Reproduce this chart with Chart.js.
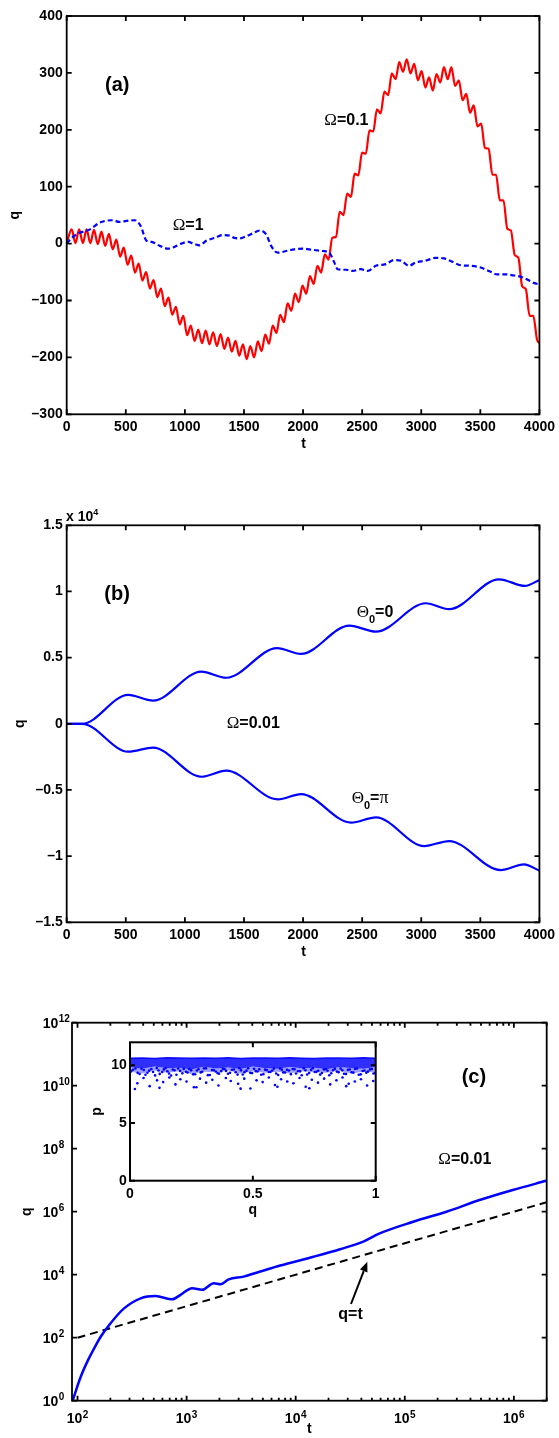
<!DOCTYPE html>
<html><head><meta charset="utf-8">
<script src="https://cdn.jsdelivr.net/npm/chart.js@4.4.0/dist/chart.umd.min.js"></script>
<style>
html,body{margin:0;padding:0;background:#fff;}
#wrap{position:relative;width:559px;height:1438px;overflow:hidden;background:#fff;}
canvas{position:absolute;}
</style></head><body>
<div id="wrap">
<canvas id="ca" width="559" height="450" style="left:0;top:0"></canvas>
<canvas id="cb" width="559" height="510" style="left:0;top:450px"></canvas>
<canvas id="cc" width="559" height="478" style="left:0;top:960px"></canvas>
<canvas id="ci" width="320" height="195" style="left:80px;top:1030px"></canvas>
</div>
<script>
// ---------------- Panel (a) ----------------
const aXTicks = [0,500,1000,1500,2000,2500,3000,3500,4000];
const aYTicks = [-300,-200,-100,0,100,200,300,400];
const redT = [0,42,74,105,137,168,200,231,263,294,326,357,389,420,452,483,515,546,578,609,641,672,704,735,767,798,830,861,893,924,956,987,1019,1050,1082,1113,1145,1176,1208,1239,1271,1302,1334,1365,1397,1428,1460,1491,1523,1554,1586,1617,1649,1680,1712,1743,1775,1806,1838,1869,1901,1932,1964,1995,2027,2058,2090,2121,2153,2184,2216,2247,2279,2310,2342,2373,2405,2436,2468,2499,2531,2562,2594,2625,2657,2688,2720,2751,2783,2814,2846,2877,2909,2940,2972,3003,3035,3066,3098,3129,3161,3192,3224,3255,3287,3318,3350,3381,3413,3444,3476,3507,3539,3570,3602,3633,3665,3696,3728,3759,3791,3822,3854,3885,3917,3948,3980,4000];
const redQ = [1,25,1,25,1,25,1,24,-1,21,-4,17,-10,7,-23,-7,-37,-21,-51,-35,-65,-50,-79,-64,-94,-79,-110,-95,-125,-111,-142,-127,-161,-144,-171,-151,-175,-153,-177,-156,-180,-159,-185,-165,-190,-171,-197,-177,-203,-180,-200,-172,-189,-160,-176,-144,-157,-125,-138,-105,-118,-88,-103,-74,-88,-57,-71,-39,-51,-19,-28,10,12,56,50,88,82,123,120,160,158,199,197,236,229,267,261,299,289,319,302,324,299,316,287,303,274,292,269,298,283,310,289,310,277,287,252,263,230,243,206,211,168,167,121,121,76,76,26,23,-20,-25,-75,-80,-127,-127,-169,-175];
const blueT = [0,42,100,197,281,380,450,507,577,633,647,675,717,788,858,900,970,1027,1083,1125,1181,1252,1322,1378,1420,1463,1519,1575,1632,1688,1730,1786,1857,1927,1997,2081,2166,2222,2264,2292,2363,2419,2489,2546,2616,2700,2770,2827,2897,2953,3038,3122,3192,3263,3333,3417,3502,3572,3642,3713,3783,3839,3896,3952,4000];
const blueQ = [0,10,18,25,37,41,38,40,41,28,19,5,3,-4,-9,-7,0,3,-1,-3,5,10,15,14,10,9,13,18,23,16,-4,-16,-13,-10,-9,-11,-13,-16,-33,-45,-46,-48,-45,-48,-39,-36,-29,-30,-39,-33,-30,-25,-26,-32,-38,-39,-42,-48,-54,-54,-56,-58,-63,-69,-72];

// ---------------- Panel (b) ----------------
const bXTicks = [0,500,1000,1500,2000,2500,3000,3500,4000];
const bYTicks = [-15000,-10000,-5000,0,5000,10000,15000];
const bT0  = [0,130,520,731,1139,1350,1780,1983,2392,2617,3039,3236,3658,3878,4000];
const bQ0  = [0,0,2180,1750,3940,3480,5720,5280,7420,6960,9110,8660,10920,10420,10870];
const bTpi = [0,130,520,731,1139,1350,1786,1983,2406,2617,3025,3236,3672,3869,4000];
const bQpi = [0,0,-2110,-1800,-4000,-3540,-5710,-5310,-7470,-7070,-9240,-8860,-11050,-10620,-11100];

// ---------------- Panel (c) ----------------
const cXExp = [2,3,4,5,6];
const cYExp = [0,2,4,6,8,10,12];
const cT = [90.6,107,123,142,163,201,267,379,520,738,879,1125,1390,1774,2042,2432,3334,4742,7211,14555,25527,41687,58884,119399,240990,485289,977237,1977000];
const cQ = [1.05,5.75,17.4,45.7,107,288,851,1778,2089,1660,2291,3715,3311,5370,5012,7079,8710,12589,19500,37154,64565,112202,204174,478630,1000000,2344229,4897788,9549926];
const refT = [100,2000000];
const refQ = [100,2000000];

// ---------------- Inset ----------------
const iXTicks = [0,0.5,1];
const iYTicks = [0,5,10];
const bandQ    = [0,0.05,0.1,0.15,0.2,0.25,0.3,0.35,0.4,0.45,0.5,0.55,0.6,0.65,0.7,0.75,0.8,0.85,0.9,0.95,1];
const bandTop  = [10.62,10.64,10.6,10.65,10.63,10.61,10.64,10.62,10.65,10.6,10.63,10.64,10.61,10.65,10.62,10.6,10.64,10.63,10.61,10.65,10.62];
const bandMid  = [9.85,9.7,9.9,9.75,9.8,9.65,9.88,9.72,9.82,9.68,9.9,9.76,9.7,9.86,9.74,9.8,9.66,9.84,9.78,9.7,9.86];
const bandLow  = [9.45,9.3,9.55,9.35,9.5,9.25,9.45,9.4,9.55,9.3,9.5,9.35,9.45,9.3,9.5,9.4,9.35,9.55,9.3,9.45,9.4];
const dotQ = [0.012,0.031,0.047,0.063,0.078,0.094,0.109,0.121,0.138,0.152,0.167,0.181,0.196,0.213,0.228,0.241,0.257,0.272,0.288,0.301,0.317,0.334,0.349,0.362,0.378,0.391,0.407,0.423,0.438,0.452,0.466,0.481,0.497,0.512,0.526,0.543,0.557,0.572,0.586,0.603,0.618,0.631,0.647,0.662,0.676,0.692,0.707,0.721,0.737,0.752,0.766,0.781,0.797,0.811,0.826,0.842,0.857,0.871,0.887,0.902,0.916,0.931,0.947,0.962,0.977,0.991,
 0.005,0.022,0.039,0.056,0.071,0.087,0.102,0.116,0.131,0.145,0.159,0.174,0.189,0.204,0.219,0.234,0.249,0.265,0.279,0.294,0.309,0.325,0.341,0.356,0.371,0.385,0.399,0.415,0.43,0.445,0.459,0.474,0.489,0.505,0.519,0.534,0.55,0.565,0.579,0.595,0.61,0.624,0.639,0.655,0.669,0.684,0.699,0.714,0.729,0.744,0.759,0.774,0.789,0.804,0.819,0.834,0.849,0.864,0.879,0.894,0.909,0.924,0.939,0.954,0.969,0.984,0.998,
 0.03,0.055,0.08,0.11,0.135,0.16,0.185,0.205,0.23,0.26,0.285,0.31,0.335,0.36,0.39,0.41,0.44,0.465,0.49,0.515,0.54,0.565,0.59,0.615,0.64,0.665,0.69,0.715,0.74,0.765,0.79,0.815,0.84,0.865,0.89,0.915,0.94,0.965,0.99,0.02,0.12,0.27,0.45,0.6,0.73,0.88];
const dotP = [9.62,9.35,9.71,9.18,9.54,9.43,9.77,9.26,9.65,9.49,9.12,9.58,9.73,9.31,9.45,9.68,9.22,9.56,9.39,9.74,9.15,9.6,9.47,9.28,9.7,9.52,9.36,9.64,9.2,9.57,9.41,9.75,9.33,9.5,9.66,9.24,9.59,9.44,9.72,9.17,9.63,9.38,9.55,9.69,9.29,9.48,9.76,9.21,9.61,9.42,9.53,9.34,9.67,9.14,9.58,9.46,9.73,9.27,9.62,9.4,9.7,9.19,9.51,9.37,9.65,9.3,
 9.48,9.73,9.25,9.6,9.36,9.69,9.13,9.55,9.42,9.77,9.3,9.64,9.19,9.52,9.7,9.38,9.57,9.23,9.66,9.45,9.74,9.16,9.59,9.33,9.5,9.68,9.27,9.62,9.4,9.75,9.21,9.54,9.35,9.71,9.47,9.18,9.63,9.43,9.56,9.29,9.72,9.39,9.61,9.24,9.67,9.49,9.14,9.58,9.34,9.76,9.44,9.2,9.65,9.53,9.31,9.7,9.41,9.57,9.26,9.64,9.37,9.73,9.22,9.55,9.46,9.68,9.32,
 8.45,8.9,8.2,8.7,8.55,8.95,8.35,8.8,8.6,8.1,8.85,8.5,8.75,8.25,8.9,8.65,8.4,8.85,8.0,8.7,8.55,8.95,8.3,8.8,8.6,8.45,8.9,8.15,8.75,8.5,8.85,8.35,8.7,8.95,8.4,8.6,8.8,8.25,8.65,7.95,8.05,8.1,7.98,8.15,8.02,8.2];

// ---------------- helpers ----------------
const FONT = "'Liberation Sans', Arial, Helvetica, sans-serif";
const SERIF = "'Liberation Serif', 'Times New Roman', serif";
const xy = (xs, ys) => xs.slice(0, Math.min(xs.length, ys.length)).map((x, i) => ({x: x, y: ys[i]}));
const dash = v => (v < 0 ? '\u2013' + String(Math.abs(v)) : String(v));
const tickFont = {family: FONT, size: 14, weight: 'bold'};

function drawRich(ctx, it) {
  ctx.save();
  ctx.translate(it.x, it.y);
  if (it.rot) ctx.rotate(it.rot);
  ctx.textBaseline = 'alphabetic';
  ctx.textAlign = 'left';
  ctx.fillStyle = '#000';
  let w = 0;
  const ws = it.parts.map(p => {
    ctx.font = (p[2] || 'bold') + ' ' + p[1] + 'px ' + (p[4] || FONT);
    const m = ctx.measureText(p[0]).width; w += m; return m;
  });
  let x = it.align === 'center' ? -w / 2 : (it.align === 'right' ? -w : 0);
  it.parts.forEach((p, i) => {
    ctx.font = (p[2] || 'bold') + ' ' + p[1] + 'px ' + (p[4] || FONT);
    ctx.fillText(p[0], x, p[3] || 0);
    x += ws[i];
  });
  ctx.restore();
}

function makeFrame(cfg) {
  return {
    id: 'frame',
    beforeDatasetsDraw(chart) {
      if (!cfg.whiteBg) return;
      const a = chart.chartArea, ctx = chart.ctx;
      ctx.save(); ctx.fillStyle = '#fff';
      ctx.fillRect(a.left, a.top, a.right - a.left, a.bottom - a.top);
      ctx.restore();
    },
    afterDatasetsDraw(chart) {
      const ctx = chart.ctx, a = chart.chartArea;
      const xs = chart.scales.x, ys = chart.scales.y;
      ctx.save();
      ctx.strokeStyle = '#000';
      ctx.lineWidth = cfg.lw || 1.8;
      ctx.beginPath();
      xs.ticks.forEach(t => {
        const p = xs.getPixelForValue(t.value);
        if (p < a.left - 0.5 || p > a.right + 0.5) return;
        const L = t.minor ? 3 : 5;
        ctx.moveTo(p, a.bottom); ctx.lineTo(p, a.bottom - L);
        ctx.moveTo(p, a.top); ctx.lineTo(p, a.top + L);
      });
      ys.ticks.forEach(t => {
        const p = ys.getPixelForValue(t.value);
        if (p < a.top - 0.5 || p > a.bottom + 0.5) return;
        const L = t.minor ? 3 : 5;
        ctx.moveTo(a.left, p); ctx.lineTo(a.left + L, p);
        ctx.moveTo(a.right, p); ctx.lineTo(a.right - L, p);
      });
      ctx.stroke();
      ctx.strokeRect(a.left, a.top, a.right - a.left, a.bottom - a.top);
      ctx.restore();
      if (cfg.extra) cfg.extra(chart);
      (cfg.texts || []).forEach(t => drawRich(ctx, t));
    }
  };
}

function linScale(min, max, ticks, fit, isX, fmt, pad) {
  return {
    type: 'linear', min: min, max: max,
    afterBuildTicks: s => { s.ticks = ticks.map(v => ({value: v})); },
    afterFit: s => { if (isX) s.height = fit; else s.width = fit; },
    grid: {display: false, drawTicks: false},
    border: {display: false},
    ticks: {color: '#000', font: tickFont, padding: pad, autoSkip: false, maxRotation: 0, minRotation: 0,
            callback: v => fmt(v)}
  };
}

const baseOpts = (padding, scales) => ({
  responsive: false, animation: false, devicePixelRatio: 1,
  layout: {padding: padding},
  plugins: {legend: {display: false}, tooltip: {enabled: false}},
  elements: {point: {radius: 0}},
  scales: scales
});

const ROT = -Math.PI / 2;

// ---------------- Chart (a) ----------------
new Chart(document.getElementById('ca'), {
  type: 'line',
  data: {datasets: [
    {data: xy(blueT, blueQ), borderColor: '#0000ff', borderWidth: 2.2, borderDash: [5, 3], fill: false,
     cubicInterpolationMode: 'monotone', pointRadius: 0},
    {data: xy(redT, redQ), borderColor: '#ff0000', borderWidth: 2.2, fill: false,
     cubicInterpolationMode: 'monotone', pointRadius: 0}
  ]},
  options: baseOpts({left: 0, right: 18.3, top: 16, bottom: 0}, {
    x: linScale(0, 4000, aXTicks, 35.7, true, v => String(v), 4),
    y: linScale(-300, 400, aYTicks, 66.7, false, dash, 4)
  }),
  plugins: [makeFrame({texts: [
    {x: 105, y: 90.8, parts: [['(a)', 20, 'bold']]},
    {x: 324.3, y: 125, parts: [['\u03A9', 17, 'normal', 0, SERIF], ['=0.1', 16, 'bold']]},
    {x: 172.7, y: 230, parts: [['\u03A9', 17, 'normal', 0, SERIF], ['=1', 16, 'bold']]},
    {x: 18.9, y: 215.2, rot: ROT, align: 'center', parts: [['q', 14, 'bold']]},
    {x: 303.7, y: 448, align: 'center', parts: [['t', 14, 'bold']]}
  ]})]
});

// ---------------- Chart (b) ----------------
new Chart(document.getElementById('cb'), {
  type: 'line',
  data: {datasets: [
    {data: xy(bT0, bQ0), borderColor: '#0000ff', borderWidth: 2.2, fill: false, cubicInterpolationMode: 'monotone', pointRadius: 0},
    {data: xy(bTpi, bQpi), borderColor: '#0000ff', borderWidth: 2.2, fill: false, cubicInterpolationMode: 'monotone', pointRadius: 0}
  ]},
  options: baseOpts({left: 0, right: 18.3, top: 75.3, bottom: 0}, {
    x: linScale(0, 4000, bXTicks, 37.7, true, v => String(v), 4),
    y: linScale(-15000, 15000, bYTicks, 66.7, false, v => dash(v / 10000), 4)
  }),
  plugins: [makeFrame({texts: [
    {x: 66, y: 70.7, parts: [['x 10', 14, 'bold'], ['4', 9, 'bold', -5.5]]},
    {x: 104.3, y: 150, parts: [['(b)', 20, 'bold']]},
    {x: 226.7, y: 278.3, parts: [['\u03A9', 17, 'normal', 0, SERIF], ['=0.01', 16, 'bold']]},
    {x: 356.7, y: 166.7, parts: [['\u0398', 17, 'normal', 0, SERIF], ['0', 11, 'bold', 6], ['=0', 16, 'bold']]},
    {x: 351.7, y: 353.3, parts: [['\u0398', 17, 'normal', 0, SERIF], ['0', 11, 'bold', 6], ['=', 16, 'bold'], ['\u03C0', 18, 'normal', 0, SERIF]]},
    {x: 24.2, y: 273.8, rot: ROT, align: 'center', parts: [['q', 14, 'bold']]},
    {x: 303.7, y: 506, align: 'center', parts: [['t', 14, 'bold']]}
  ]})]
});

// ---------------- Chart (c) ----------------
const cXTickVals = [];
cXExp.forEach(e => {
  cXTickVals.push({value: Math.pow(10, e), minor: false});
  for (let m = 2; m <= 9; m++) {
    const v = m * Math.pow(10, e);
    if (v <= 2000000) cXTickVals.push({value: v, minor: true});
  }
});
function drawPow(ctx, x, base, exp, align) {
  ctx.save();
  ctx.fillStyle = '#000';
  ctx.textBaseline = 'alphabetic'; ctx.textAlign = 'left';
  ctx.font = 'bold 14px ' + FONT; const w1 = ctx.measureText('10').width;
  ctx.font = 'bold 10px ' + FONT; const w2 = ctx.measureText(String(exp)).width;
  let x0 = align === 'center' ? x - (w1 + 0.5 + w2) / 2 : x;
  ctx.font = 'bold 14px ' + FONT; ctx.fillText('10', x0, base);
  ctx.font = 'bold 10px ' + FONT; ctx.fillText(String(exp), x0 + w1 + 0.5, base - 5.5);
  ctx.restore();
}
new Chart(document.getElementById('cc'), {
  type: 'line',
  data: {datasets: [
    {data: xy(cT, cQ), borderColor: '#0000ff', borderWidth: 2.5, fill: false, cubicInterpolationMode: 'monotone', pointRadius: 0},
    {data: xy(refT, refQ), borderColor: '#000', borderWidth: 2, borderDash: [8, 5], fill: false, tension: 0, pointRadius: 0}
  ]},
  options: baseOpts({left: 0, right: 12.3, top: 62.7, bottom: 0}, {
    x: {type: 'logarithmic', min: 89, max: 2000000,
        afterBuildTicks: s => { s.ticks = cXTickVals.map(t => ({value: t.value, minor: t.minor})); },
        afterFit: s => { s.height = 37.3; },
        grid: {display: false, drawTicks: false}, border: {display: false}, ticks: {display: false}},
    y: {type: 'logarithmic', min: 1, max: 1e12,
        afterBuildTicks: s => { s.ticks = cYExp.map(e => ({value: Math.pow(10, e)})); },
        afterFit: s => { s.width = 72; },
        grid: {display: false, drawTicks: false}, border: {display: false}, ticks: {display: false}}
  }),
  plugins: [makeFrame({
    extra: chart => {
      const ctx = chart.ctx, a = chart.chartArea, xs = chart.scales.x, ys = chart.scales.y;
      cYExp.forEach(e => { const p = ys.getPixelForValue(Math.pow(10, e)); drawPow(ctx, 42.7, p + 5.2, e, 'left'); });
      cXExp.forEach(e => { const p = xs.getPixelForValue(Math.pow(10, e)); drawPow(ctx, p, a.bottom + 22.6, e, 'center'); });
      const x1 = 351, y1 = 344, x2 = 367.3, y2 = 301.7;
      const dx = x2 - x1, dy = y2 - y1, L = Math.hypot(dx, dy), ux = dx / L, uy = dy / L;
      const hl = 10, hw = 4;
      ctx.save();
      ctx.strokeStyle = '#000'; ctx.fillStyle = '#000'; ctx.lineWidth = 2;
      ctx.beginPath(); ctx.moveTo(x1, y1); ctx.lineTo(x2 - ux * hl, y2 - uy * hl); ctx.stroke();
      ctx.beginPath(); ctx.moveTo(x2, y2);
      ctx.lineTo(x2 - ux * hl - uy * hw, y2 - uy * hl + ux * hw);
      ctx.lineTo(x2 - ux * hl + uy * hw, y2 - uy * hl - ux * hw);
      ctx.closePath(); ctx.fill();
      ctx.restore();
    },
    texts: [
      {x: 461.7, y: 122.5, parts: [['(c)', 20, 'bold']]},
      {x: 438.3, y: 204, parts: [['\u03A9', 17, 'normal', 0, SERIF], ['=0.01', 16, 'bold']]},
      {x: 338.3, y: 359, parts: [['q=t', 16, 'bold']]},
      {x: 31.2, y: 251.7, rot: ROT, align: 'center', parts: [['q', 14, 'bold']]},
      {x: 309.3, y: 473, align: 'center', parts: [['t', 14, 'bold']]}
    ]})]
});

// ---------------- Inset ----------------
new Chart(document.getElementById('ci'), {
  type: 'line',
  data: {datasets: [
    {data: xy(dotQ, dotP), showLine: false, pointRadius: 1.3, pointBackgroundColor: '#0000ff', pointBorderWidth: 0, borderColor: '#0000ff'},
    {data: xy(bandQ, bandTop), borderColor: 'rgba(0,0,255,0.9)', borderWidth: 1.5, backgroundColor: 'rgba(10,10,255,0.85)', fill: '+1', tension: 0, pointRadius: 0},
    {data: xy(bandQ, bandMid), borderWidth: 0, borderColor: 'rgba(0,0,255,0)', backgroundColor: 'rgba(40,40,255,0.45)', fill: '+1', tension: 0, pointRadius: 0},
    {data: xy(bandQ, bandLow), borderWidth: 0, borderColor: 'rgba(0,0,255,0)', fill: false, tension: 0, pointRadius: 0}
  ]},
  options: baseOpts({left: 0, right: 24.3, top: 12.3, bottom: 0}, {
    x: linScale(0, 1, iXTicks, 44.3, true, v => String(v), 4.7),
    y: linScale(0, 12, iYTicks, 50, false, v => String(v), 3.3)
  }),
  plugins: [makeFrame({whiteBg: true, lw: 2, texts: [
    {x: 172.7, y: 184, align: 'center', parts: [['q', 14, 'bold']]},
    {x: 21.4, y: 81.5, rot: ROT, align: 'center', parts: [['p', 14, 'bold']]}
  ]})]
});
</script>
</body></html>
